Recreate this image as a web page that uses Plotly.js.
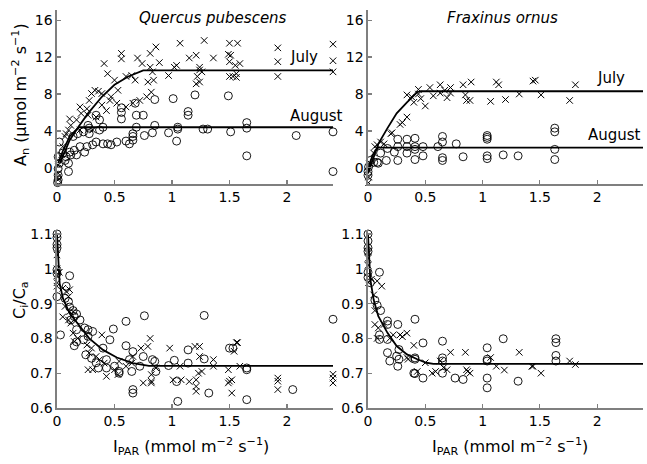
<!DOCTYPE html>
<html><head><meta charset="utf-8">
<script src="https://cdn.plot.ly/plotly-3.0.1.min.js"></script>
<style>html,body{margin:0;padding:0;background:#fff}#c{width:647px;height:464px}</style>
</head><body><div id="c"></div>
<script>
// ---------- Quercus pubescens, An ----------
var qpAnJulyX = [0.86,1.07,1.15,1.21,1.28,1.36,1.49,1.50,1.51,1.50,1.57,1.59,1.55,1.92,1.92,1.92,2.40,2.40,2.40,
 0.56,0.56,0.70,0.74,0.81,0.89,0.41,0.44,0.50,0.60,0.65,0.68,0.81,0.83,0.84,0.79,0.82,0.97,1.02,1.04,1.22,1.24,1.21,1.24,1.24,1.26,1.50,1.53,1.56,1.56,
 0.30,0.33,0.36,0.39,0.46,0.53,0.47,0.43,0.39,0.52,0.60,0.66,0.72,0.78,0.28,0.26,0.20,0.21,0.17,0.12,0.10,0.08,0.07,0.11,0.27,0.34,0.20,0.31,0.05,0.04,0.01,0.01,0.005,0.01];
var qpAnJulyY = [13.1,13.5,11.9,12.2,13.8,11.9,12.3,13.5,12.2,11.5,13.5,11.3,11.1,13.0,11.5,9.9,13.4,11.6,10.4,
 12.4,11.8,11.9,11.3,12.4,11.4,11.3,10.2,9.5,9.9,10.0,9.5,10.9,10.4,9.5,9.3,8.2,10.0,10.9,11.1,9.9,9.3,9.1,10.9,10.6,10.4,9.9,9.9,10.2,9.8,
 8.05,8.4,8.3,8.05,7.3,8.4,7.7,6.2,6.8,7.0,6.6,7.0,7.3,7.7,7.3,6.4,6.6,5.9,5.2,4.6,4.1,3.7,3.4,5.3,5.7,5.5,4.1,4.1,2.3,1.4,0.3,-0.6,-1.0,-1.3];
var qpAnAugX = [0.85,1.01,1.20,1.49,1.14,1.14,0.56,0.56,0.56,0.68,0.69,0.75,0.69,0.85,1.05,1.05,1.27,1.31,1.65,1.65,1.65,1.51,1.04,0.97,0.83,0.76,0.66,0.66,0.66,0.60,2.08,2.40,2.40,
 0.37,0.37,0.40,0.34,0.28,0.23,0.18,0.14,0.27,0.28,0.44,0.47,0.40,0.31,0.26,0.20,0.15,0.11,0.08,0.07,0.10,0.10,0.02,0.01,0.02,0.01,0.01,0.01,0.005,0.05,0.12,0.17,0.24,0.34,0.52,0.63];
var qpAnAugY = [7.4,7.5,7.9,7.8,6.1,5.7,6.5,6.0,5.3,7.0,5.7,5.7,4.4,4.6,4.4,4.2,4.2,4.2,4.9,4.3,1.3,3.9,2.9,3.8,3.8,3.5,3.7,3.4,3.0,2.9,3.5,3.9,-0.4,
 5.2,4.1,4.4,5.7,3.7,3.9,3.7,3.4,4.6,4.3,2.6,2.5,2.6,2.5,2.3,2.3,1.9,1.7,1.2,0.8,0.5,-0.4,2.8,1.2,0.5,-0.1,-0.8,-1.3,-1.6,1.6,1.4,1.4,1.7,2.8,2.8,2.6];
var qpAnJulyFitX = [0.026,0.11,0.19,0.27,0.39,0.50,0.62,0.75,2.4];
var qpAnJulyFitY = [0.5,3.0,4.5,5.9,7.7,9.0,9.9,10.55,10.55];
var qpAnAugFitX = [0.01,0.05,0.11,0.16,0.19,2.4];
var qpAnAugFitY = [0.5,1.8,3.4,4.1,4.4,4.4];

// ---------- Fraxinus ornus, An ----------
var foAnJulyX = [0.34,0.38,0.40,0.44,0.44,0.46,0.50,0.54,0.57,0.63,0.63,0.67,0.69,0.72,0.72,0.83,0.85,0.86,0.89,0.90,1.07,1.12,1.14,1.20,1.32,1.44,1.46,1.51,1.76,1.81,
 0.34,0.30,0.28,0.21,0.20,0.11,0.08,0.06,0.05,0.02,0.005,0.005,0.14];
var foAnJulyY = [7.9,7.7,7.1,8.0,8.5,7.5,6.7,8.7,7.8,9.0,8.1,8.4,7.6,8.7,8.1,9.0,7.9,7.3,7.3,9.3,7.2,9.3,9.0,7.4,8.0,9.4,9.5,7.9,7.3,9.0,
 5.5,4.9,4.7,3.8,3.7,2.8,2.5,2.3,1.6,0.5,-1.0,-1.6,2.6];
var foAnAugX = [1.63,1.63,1.63,1.63,1.04,1.04,1.04,1.04,1.04,1.18,1.31,0.83,0.77,0.65,0.65,0.65,0.65,0.61,0.48,0.48,0.41,0.41,0.41,0.41,0.34,0.34,0.34,0.26,0.26,0.26,0.23,0.17,0.16,0.11,0.09,0.08,0.05,0.02,0.005,0,0];
var foAnAugY = [4.3,3.9,2.0,0.9,3.5,3.3,3.1,1.3,1.0,1.4,1.3,1.2,2.6,3.4,2.8,1.1,0.8,2.3,2.3,1.3,3.2,2.3,2.0,0.9,3.1,1.6,2.3,2.3,0.8,3.1,1.7,2.1,0.8,1.6,0.5,0.6,0.6,0.8,0.1,-0.4,-0.8];
var foAnJulyFitX = [0,0.05,0.09,0.17,0.25,0.34,0.43,0.46,2.4];
var foAnJulyFitY = [-0.6,1.2,2.6,4.3,5.9,7.1,8.2,8.3,8.3];
var foAnAugFitX = [0,0.035,0.064,0.09,2.4];
var foAnAugFitY = [-0.25,1.2,1.9,2.2,2.2];

// ---------- Quercus pubescens, Ci/Ca ----------
var qpCiAugX = [0,0,0,0,0,0,0,0.03,0.11,0.76,1.28,0.60,0.49,0.60,0.08,0.07,0.10,0.11,0.14,0.17,0.20,0.15,0.12,0.17,0.24,0.27,0.31,0.27,0.23,0.17,0.15,0.25,0.30,0.34,0.36,0.40,0.43,0.43,0.46,0.54,0.54,0.65,0.66,0.66,0.66,0.83,0.85,0.86,0.97,1.02,1.04,1.05,1.14,1.14,1.28,1.32,1.50,1.53,1.65,1.65,1.65,2.05,0.75,0.63,0.50,0.72,2.40];
var qpCiAugY = [1.10,1.09,1.07,1.06,0.997,0.987,0.92,0.81,0.98,0.865,0.866,0.849,0.827,0.779,0.95,0.915,0.906,0.89,0.88,0.87,0.853,0.863,0.853,0.825,0.83,0.825,0.82,0.806,0.796,0.79,0.779,0.753,0.743,0.73,0.715,0.772,0.739,0.715,0.796,0.705,0.70,0.705,0.762,0.653,0.643,0.739,0.734,0.705,0.722,0.737,0.676,0.619,0.729,0.767,0.741,0.643,0.772,0.772,0.715,0.71,0.624,0.653,0.748,0.739,0.72,0.72,0.855];
var qpCiJulyX = [0,0,0,0,0,0.02,0.05,0.08,0.11,0.10,0.07,0.11,0.14,0.10,0.12,0.05,0.14,0.15,0.18,0.26,0.30,0.28,0.34,0.37,0.39,0.31,0.27,0.41,0.43,0.50,0.53,0.54,0.65,0.66,0.60,0.73,0.79,0.81,0.75,0.82,0.82,0.86,0.82,0.98,1.01,1.07,1.08,1.15,1.20,1.21,1.21,1.21,1.24,1.24,1.23,1.26,1.36,1.36,1.49,1.49,1.52,1.50,1.52,1.56,1.57,1.54,1.59,1.92,1.92,1.92,2.40,2.40,2.40];
var qpCiJulyY = [1.04,1.0,0.98,0.96,0.95,0.99,0.944,0.935,0.94,0.92,0.892,0.877,0.877,0.853,0.844,0.862,0.815,0.791,0.80,0.781,0.772,0.758,0.748,0.739,0.81,0.71,0.71,0.729,0.691,0.71,0.696,0.734,0.729,0.748,0.72,0.772,0.777,0.80,0.672,0.672,0.677,0.715,0.696,0.772,0.681,0.72,0.681,0.676,0.777,0.681,0.662,0.648,0.777,0.748,0.70,0.705,0.739,0.72,0.71,0.672,0.681,0.677,0.643,0.788,0.788,0.763,0.72,0.686,0.677,0.653,0.697,0.686,0.672];
var qpCiFitX = [0,0.01,0.023,0.052,0.11,0.2,0.28,0.4,0.52,0.66,0.75,0.8,2.4];
var qpCiFitY = [1.1,1.016,0.958,0.915,0.872,0.834,0.80,0.767,0.745,0.729,0.723,0.721,0.721];

// ---------- Fraxinus ornus, Ci/Ca ----------
var foCiAugX = [0,0,0,0,0,0,0.02,0.10,0.06,0.08,0.11,0.10,0.10,0.17,0.17,0.17,0.17,0.19,0.25,0.26,0.26,0.27,0.27,0.41,0.41,0.41,0.40,0.41,0.48,0.48,0.65,0.65,0.65,0.65,0.76,0.83,1.04,1.04,1.04,1.04,1.04,1.18,1.31,1.64,1.64,1.64,1.64];
var foCiAugY = [1.10,1.08,1.06,1.05,0.99,0.975,0.96,0.99,0.91,0.895,0.88,0.81,0.797,0.85,0.84,0.797,0.759,0.735,0.749,0.72,0.84,0.768,0.74,0.855,0.744,0.74,0.70,0.699,0.787,0.686,0.792,0.744,0.735,0.70,0.686,0.682,0.773,0.74,0.735,0.686,0.658,0.799,0.677,0.799,0.788,0.751,0.735];
var foCiJulyX = [0,0,0,0.005,0.03,0.08,0.12,0.05,0.06,0.06,0.09,0.14,0.08,0.19,0.22,0.28,0.34,0.30,0.40,0.35,0.34,0.43,0.50,0.56,0.59,0.63,0.66,0.69,0.72,0.85,0.86,0.87,0.89,1.07,1.12,1.19,1.32,1.43,1.44,1.51,1.76,1.81];
var foCiJulyY = [1.05,1.03,1.01,0.96,0.97,0.965,0.95,0.925,0.88,0.84,0.83,0.84,0.80,0.80,0.81,0.81,0.815,0.805,0.78,0.74,0.745,0.705,0.73,0.70,0.705,0.735,0.716,0.71,0.76,0.76,0.71,0.705,0.70,0.745,0.72,0.709,0.76,0.72,0.72,0.70,0.735,0.725];
var foCiFitX = [0,0.01,0.02,0.05,0.09,0.17,0.25,0.34,0.43,0.51,0.57,2.4];
var foCiFitY = [1.1,1.03,0.97,0.91,0.864,0.816,0.778,0.754,0.74,0.73,0.727,0.727];

// ---------- ticks ----------
var xTickVals = [0,0.5,1,1.5,2];
var xTickText = ['0','0.5','1','1.5','2'];
var anTickVals = [0,4,8,12,16];
var anTickText = ['0','4','8','12','16'];
var ciTickVals = [0.6,0.7,0.8,0.9,1.0,1.1];
var ciTickText = ['0.6','0.7','0.8','0.9','1','1.1'];

var FONT = 'DejaVu Sans, Verdana, sans-serif';
var xMark = {symbol:'x-thin-open', size:6.5, color:'#000', line:{width:1, color:'#000'}};
var oMark = {symbol:'circle-open', size:8, color:'#000', line:{width:0.9, color:'#000'}};
var fitLine = {color:'#000', width:1.8};

function pts(x, y, m, xa, ya) {
  return {type:'scatter', mode:'markers', x:x, y:y, marker:m, xaxis:xa, yaxis:ya, cliponaxis:false, hoverinfo:'skip'};
}
function fit(x, y, xa, ya) {
  return {type:'scatter', mode:'lines', x:x, y:y, line:fitLine, xaxis:xa, yaxis:ya, cliponaxis:false, hoverinfo:'skip'};
}

var data = [
  pts(qpAnAugX, qpAnAugY, oMark, 'x', 'y'),
  pts(qpAnJulyX, qpAnJulyY, xMark, 'x', 'y'),
  fit(qpAnJulyFitX, qpAnJulyFitY, 'x', 'y'),
  fit(qpAnAugFitX, qpAnAugFitY, 'x', 'y'),
  pts(foAnAugX, foAnAugY, oMark, 'x2', 'y2'),
  pts(foAnJulyX, foAnJulyY, xMark, 'x2', 'y2'),
  fit(foAnJulyFitX, foAnJulyFitY, 'x2', 'y2'),
  fit(foAnAugFitX, foAnAugFitY, 'x2', 'y2'),
  pts(qpCiAugX, qpCiAugY, oMark, 'x3', 'y3'),
  pts(qpCiJulyX, qpCiJulyY, xMark, 'x3', 'y3'),
  fit(qpCiFitX, qpCiFitY, 'x3', 'y3'),
  pts(foCiAugX, foCiAugY, oMark, 'x4', 'y4'),
  pts(foCiJulyX, foCiJulyY, xMark, 'x4', 'y4'),
  fit(foCiFitX, foCiFitY, 'x4', 'y4')
];

function xax(dom, anchor) {
  return {domain:dom, anchor:anchor, range:[0,2.4], tickvals:xTickVals, ticktext:xTickText,
    showline:true, linecolor:'#7f7f7f', linewidth:1.6, ticks:'inside', ticklen:4, tickcolor:'#7f7f7f', tickwidth:1.2,
    showgrid:false, zeroline:false, tickfont:{family:FONT, size:14, color:'#000'}, fixedrange:true};
}
function yax(dom, anchor, rng, tv, tt) {
  return {domain:dom, anchor:anchor, range:rng, tickvals:tv, ticktext:tt,
    showline:true, linecolor:'#7f7f7f', linewidth:1.6, ticks:'inside', ticklen:4, tickcolor:'#7f7f7f', tickwidth:1.2,
    showgrid:false, zeroline:false, tickfont:{family:FONT, size:14, color:'#000'}, fixedrange:true};
}

var dxL = [57/647, 333/647], dxR = [368/647, 643/647];
var dyT = [1-184/464, 1-10/464], dyB = [1-408/464, 1-230/464];
var anRange = [-1.75, 17.1], ciRange = [0.6, 1.1115];

function ann(text, x, y, xref, yref, opts) {
  var a = {text:text, x:x, y:y, xref:xref, yref:yref, showarrow:false,
    font:{family:FONT, size:15, color:'#000'}, xanchor:'left', yanchor:'middle'};
  for (var k in (opts||{})) a[k] = opts[k];
  return a;
}
var titleFont = {family:FONT, size:16, color:'#000'};

var layout = {
  width:647, height:464, margin:{l:0, r:0, t:0, b:0},
  paper_bgcolor:'#fff', plot_bgcolor:'rgba(0,0,0,0)', showlegend:false,
  xaxis: xax(dxL, 'y'), yaxis: yax(dyT, 'x', anRange, anTickVals, anTickText),
  xaxis2: xax(dxR, 'y2'), yaxis2: yax(dyT, 'x2', anRange, anTickVals, anTickText),
  xaxis3: xax(dxL, 'y3'), yaxis3: yax(dyB, 'x3', ciRange, ciTickVals, ciTickText),
  xaxis4: xax(dxR, 'y4'), yaxis4: yax(dyB, 'x4', ciRange, ciTickVals, ciTickText),
  annotations: [
    ann('<i>Quercus pubescens</i>', 1.36, 16.2, 'x', 'y', {xanchor:'center'}),
    ann('<i>Fraxinus ornus</i>', 1.17, 16.2, 'x2', 'y2', {xanchor:'center'}),
    ann('July', 2.01, 12.0, 'x', 'y'),
    ann('August', 2.01, 5.6, 'x', 'y'),
    ann('July', 1.98, 9.7, 'x2', 'y2'),
    ann('August', 2.4, 3.6, 'x2', 'y2', {xanchor:'right'}),
    ann('A<sub>n</sub> (μmol m<sup>−2</sup> s<sup>−1</sup>)', 20/647, 1-95/464, 'paper', 'paper', {textangle:-90, xanchor:'center', yanchor:'middle', font:titleFont}),
    ann('C<sub>i</sub>/C<sub>a</sub>', 20/647, 1-300/464, 'paper', 'paper', {textangle:-90, xanchor:'center', yanchor:'middle', font:titleFont}),
    ann('I<sub>PAR</sub> (mmol m<sup>−2</sup> s<sup>−1</sup>)', 191/647, 1-446/464, 'paper', 'paper', {xanchor:'center', yanchor:'middle', font:titleFont}),
    ann('I<sub>PAR</sub> (mmol m<sup>−2</sup> s<sup>−1</sup>)', 510/647, 1-446/464, 'paper', 'paper', {xanchor:'center', yanchor:'middle', font:titleFont})
  ]
};

Plotly.newPlot('c', data, layout, {staticPlot:true, displayModeBar:false});
</script>
</body></html>
